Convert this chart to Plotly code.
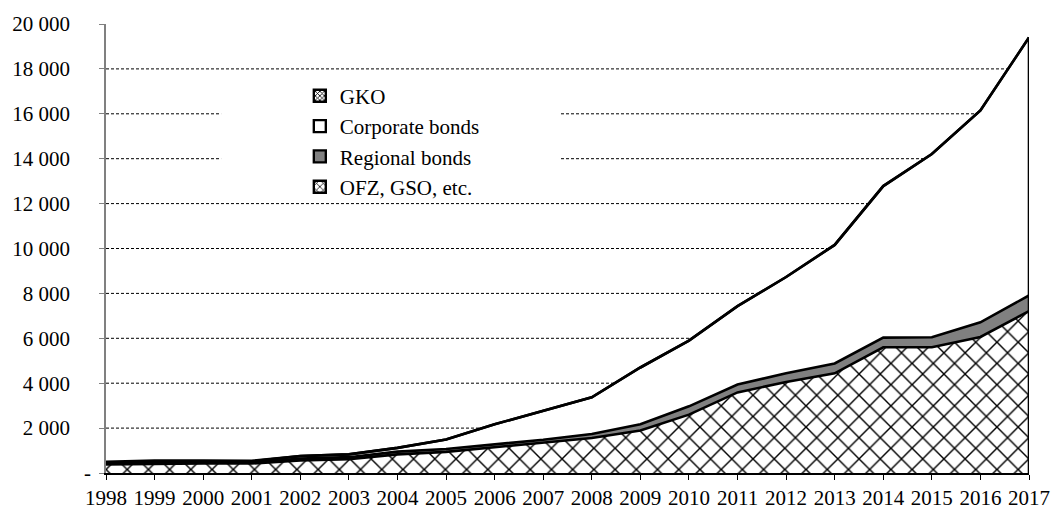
import plotly.graph_objects as go

years = list(range(1998, 2018))
ofz = [380, 420, 430, 420, 560, 620, 830, 940, 1140, 1340, 1560, 1890, 2600, 3590, 4050, 4440, 5600, 5600, 6060, 7210]
regional = [40, 40, 40, 40, 80, 85, 120, 130, 140, 140, 180, 280, 370, 350, 390, 440, 430, 450, 650, 700]
corporate = [20, 50, 55, 60, 110, 125, 170, 420, 890, 1300, 1630, 2530, 2930, 3490, 4290, 5280, 6750, 8160, 9440, 11490]
gko = [60, 40, 30, 20, 10, 0, 0, 0, 0, 0, 0, 0, 0, 0, 0, 0, 0, 0, 0, 0]

y_ticks = [0, 2000, 4000, 6000, 8000, 10000, 12000, 14000, 16000, 18000, 20000]
grid_vals = [2000, 4000, 6000, 8000, 10000, 12000, 14000, 16000, 18000]

series_names = ["OFZ, GSO, etc.", "Regional bonds", "Corporate bonds", "GKO"]

FONT = "Liberation Serif"
FS = 21

def fmt(v):
    if v == 0:
        return "-"
    return f"{v:,}".replace(",", " ") + "\u00a0" * 4

fig = go.Figure()

LW = 2.6
fig.add_trace(go.Scatter(x=years, y=ofz, stackgroup="s", mode="lines", name=series_names[0],
                         line=dict(color="black", width=LW), fillcolor="white",
                         fillpattern=dict(shape="x", fgcolor="black", bgcolor="white", fgopacity=1,
                                          size=15, solidity=0.18),
                         showlegend=False, hoverinfo="skip"))
fig.add_trace(go.Scatter(x=years, y=regional, stackgroup="s", mode="lines", name=series_names[1],
                         line=dict(color="black", width=LW), fillcolor="#808080",
                         showlegend=False, hoverinfo="skip"))
fig.add_trace(go.Scatter(x=years, y=corporate, stackgroup="s", mode="lines", name=series_names[2],
                         line=dict(color="black", width=LW), fillcolor="white",
                         showlegend=False, hoverinfo="skip"))
fig.add_trace(go.Scatter(x=years, y=gko, stackgroup="s", mode="lines", name=series_names[3],
                         line=dict(color="black", width=LW), fillcolor="white",
                         fillpattern=dict(shape="x", fgcolor="black", bgcolor="white", fgopacity=1,
                                          size=6, solidity=0.3),
                         showlegend=False, hoverinfo="skip"))

# right edge of the stacked area
total_last = ofz[-1] + regional[-1] + corporate[-1] + gko[-1]
fig.add_trace(go.Scatter(x=[years[-1], years[-1]], y=[0, total_last], mode="lines",
                         line=dict(color="black", width=LW), showlegend=False, hoverinfo="skip"))

# legend entries (square icons)
legend_styles = {
    "GKO": dict(color="white", pattern=dict(shape="x", fgcolor="black", bgcolor="white", fgopacity=1, size=4, solidity=0.45)),
    "Corporate bonds": dict(color="white"),
    "Regional bonds": dict(color="#808080"),
    "OFZ, GSO, etc.": dict(color="white", pattern=dict(shape="x", fgcolor="black", bgcolor="white", fgopacity=1, size=6, solidity=0.3)),
}
for nm in ["GKO", "Corporate bonds", "Regional bonds", "OFZ, GSO, etc."]:
    st = legend_styles[nm]
    mk = dict(color=st["color"], line=dict(color="black", width=2.4))
    if "pattern" in st:
        mk["pattern"] = st["pattern"]
    fig.add_trace(go.Bar(x=[None], y=[None], name=nm, marker=mk, showlegend=True, legendgroup=nm))

shapes = []
for g in grid_vals:
    shapes.append(dict(type="line", xref="paper", x0=0, x1=1, yref="y", y0=g, y1=g,
                       line=dict(color="black", width=1, dash="3px,2px"), layer="below"))
shapes.append(dict(type="rect", xref="paper", yref="paper", x0=0.1247, x1=0.4925, y0=0.612, y1=0.876,
                   fillcolor="white", line=dict(width=0), layer="below"))

fig.update_layout(
    width=1062, height=522,
    margin=dict(l=103, r=21, t=24, b=35),
    paper_bgcolor="white", plot_bgcolor="white",
    font=dict(family=FONT, size=FS, color="black"),
    showlegend=True,
    legend=dict(x=0.21, y=0.885, xanchor="left", yanchor="top", bgcolor="rgba(0,0,0,0)",
                traceorder="normal", tracegroupgap=3, font=dict(family=FONT, size=FS, color="black")),
    shapes=shapes,
    xaxis=dict(range=[1998, 2017], tickmode="array", tickvals=years, ticktext=[str(y) for y in years],
               showgrid=False, zeroline=False, showline=True, linecolor="black", linewidth=1.5,
               ticks="outside", ticklen=5, tickcolor="black", tickwidth=1.2,
               tickfont=dict(family=FONT, size=FS, color="black")),
    yaxis=dict(range=[0, 20000], tickmode="array", tickvals=y_ticks, ticktext=[fmt(v) for v in y_ticks],
               showgrid=False, zeroline=False, showline=True, linecolor="#808080", linewidth=1.5,
               ticks="outside", ticklen=5, tickcolor="#808080", tickwidth=1.2, ticklabelstandoff=4,
               tickfont=dict(family=FONT, size=FS, color="black")),
)

fig.write_html("out.html")
